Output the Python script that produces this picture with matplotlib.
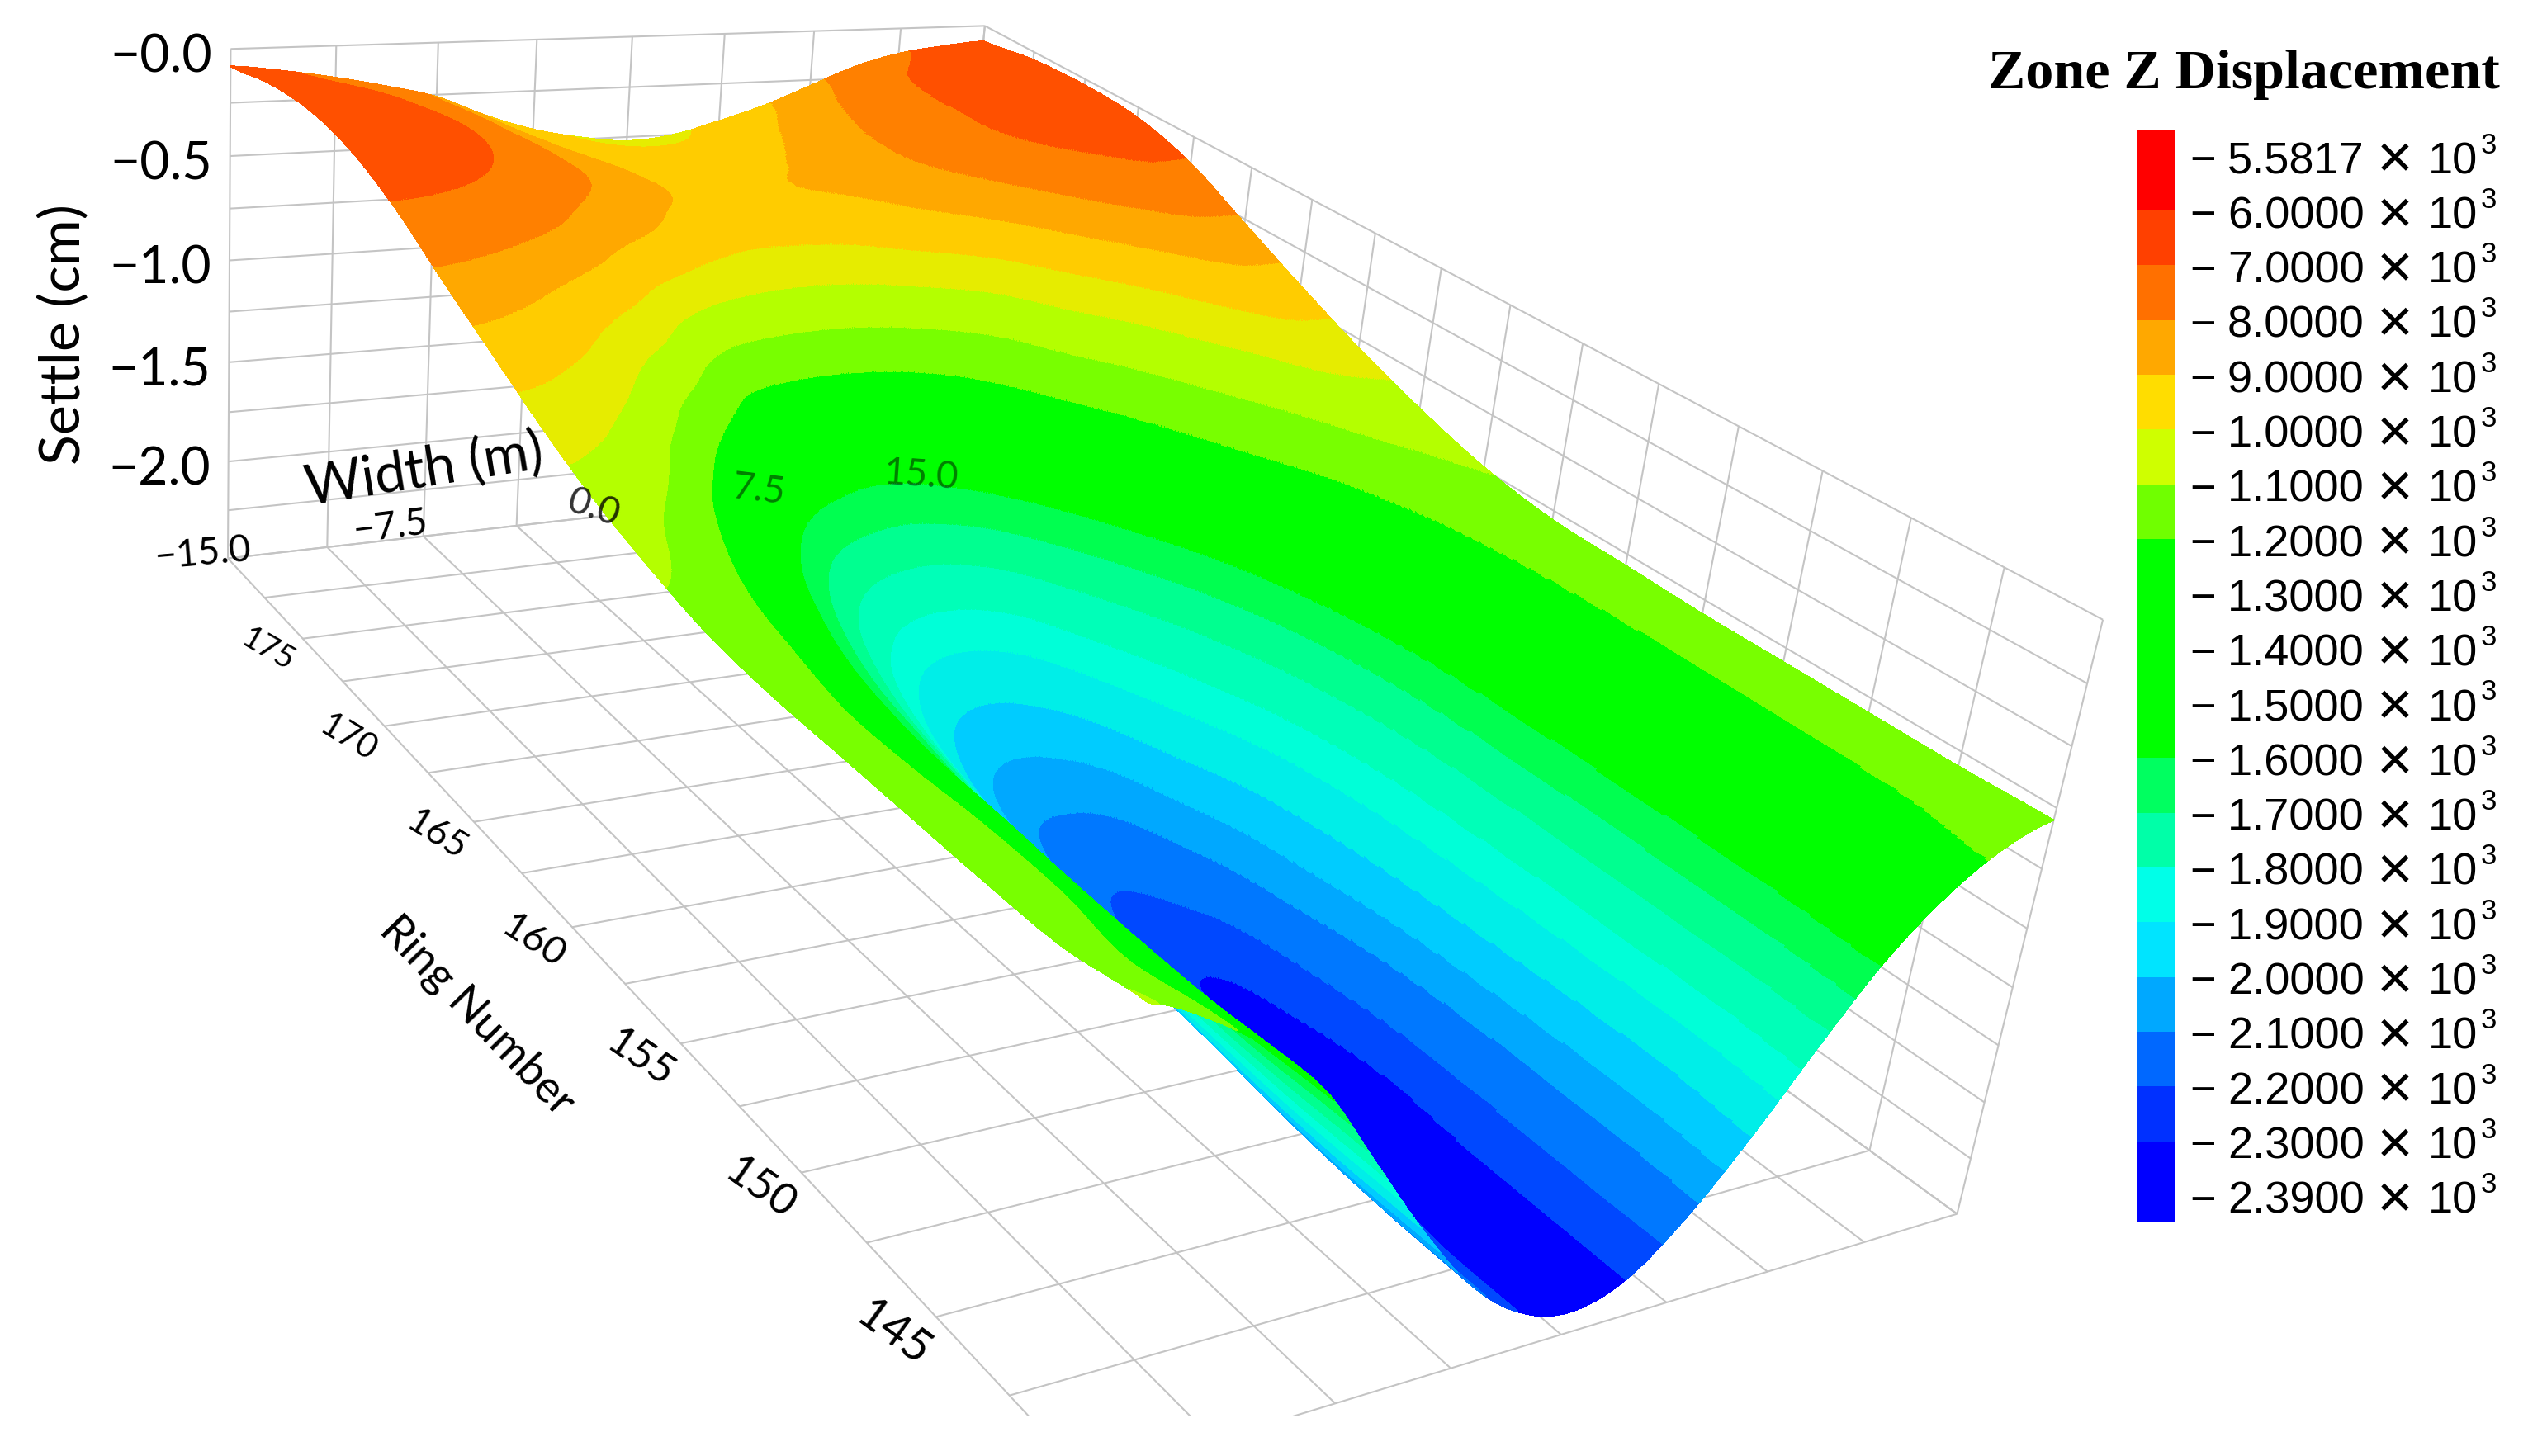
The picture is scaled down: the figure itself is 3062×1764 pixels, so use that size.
import numpy as np
import matplotlib
matplotlib.use("Agg")
import matplotlib.pyplot as plt
from matplotlib.collections import LineCollection
from matplotlib.patches import Rectangle

WIDTH_PX, HEIGHT_PX = 3062, 1765

# --- Data ---
WIDTHS = np.linspace(-15, 15, 17)
RINGS = np.linspace(180, 140, 17)
# settlement (cm), one row per ring from 180 down to 140, one column per width
SETTLE = np.array([
    [-.08, -.11, -.15, -.20, -.26, -.36, -.44, -.49, -.52, -.50, -.44, -.37, -.28, -.19, -.13, -.10, -.08],
    [-.02, -.05, -.09, -.15, -.22, -.32, -.39, -.42, -.43, -.42, -.38, -.31, -.22, -.13, -.08, -.05, -.04],
    [0.00, -.02, -.06, -.12, -.20, -.28, -.35, -.38, -.38, -.37, -.34, -.27, -.19, -.12, -.05, -.03, -.03],
    [-.04, -.05, -.09, -.15, -.22, -.29, -.36, -.40, -.39, -.38, -.35, -.29, -.22, -.14, -.07, -.04, -.05],
    [-.14, -.16, -.20, -.26, -.35, -.43, -.52, -.58, -.60, -.58, -.51, -.44, -.36, -.27, -.19, -.13, -.13],
    [-.28, -.31, -.37, -.46, -.58, -.78, -.97, -1.06, -1.09, -1.05, -.94, -.78, -.58, -.45, -.35, -.28, -.27],
    [-.41, -.45, -.53, -.68, -.88, -1.08, -1.24, -1.33, -1.37, -1.32, -1.20, -1.04, -.86, -.68, -.52, -.42, -.41],
    [-.54, -.59, -.71, -.90, -1.10, -1.30, -1.49, -1.63, -1.68, -1.62, -1.44, -1.26, -1.08, -.89, -.72, -.57, -.54],
    [-.65, -.73, -.86, -1.05, -1.24, -1.46, -1.70, -1.87, -1.92, -1.84, -1.64, -1.45, -1.26, -1.06, -.90, -.73, -.65],
    [-.73, -.81, -.95, -1.14, -1.34, -1.58, -1.85, -2.04, -2.09, -2.03, -1.81, -1.60, -1.39, -1.18, -1.01, -.85, -.74],
    [-.79, -.86, -.99, -1.19, -1.40, -1.66, -1.93, -2.14, -2.24, -2.15, -1.96, -1.73, -1.48, -1.25, -1.06, -.90, -.79],
    [-.81, -.89, -1.01, -1.21, -1.46, -1.73, -2.00, -2.21, -2.33, -2.28, -2.04, -1.80, -1.54, -1.28, -1.08, -.92, -.80],
    [-.81, -.89, -1.02, -1.22, -1.49, -1.78, -2.05, -2.25, -2.36, -2.33, -2.12, -1.84, -1.56, -1.29, -1.08, -.93, -.81],
    [-.81, -.88, -1.02, -1.24, -1.52, -1.82, -2.08, -2.28, -2.37, -2.36, -2.16, -1.87, -1.57, -1.29, -1.08, -.93, -.81],
    [-.81, -.88, -1.03, -1.25, -1.54, -1.85, -2.12, -2.30, -2.38, -2.35, -2.16, -1.90, -1.57, -1.29, -1.08, -.93, -.81],
    [-.80, -.90, -1.03, -1.25, -1.55, -1.87, -2.14, -2.33, -2.40, -2.35, -2.16, -1.91, -1.58, -1.28, -1.07, -.92, -.81],
    [-.74, -.85, -1.01, -1.22, -1.54, -1.86, -2.14, -2.33, -2.41, -2.35, -2.15, -1.87, -1.55, -1.25, -1.03, -.88, -.80],
])
# band limits on the height of the surface, and the colour of each band
SURFACE_LEVELS = [-9, -2.34, -2.23, -2.09, -1.98, -1.86, -1.73, -1.62, -1.49, -1.37, -1.26, -.91, -.75, -.60, -.48, -.36, -.25, -.12, .5]
SURFACE_COLORS = ["#0000ff", "#0048ff", "#0078ff", "#00a8ff", "#00ccff", "#00eee8", "#00ffd8", "#00ffb8", "#00ff90",
                  "#00ff50", "#00ff00", "#78ff00", "#b4ff00", "#e6ec00", "#ffcc00", "#ffa800", "#ff8000", "#ff5000"]

GRID_WIDTHS = np.arange(-15, 15.1, 3.75)
GRID_RINGS = np.arange(180, 139, -2.5)
GRID_SETTLE = np.arange(-2.5, 0.01, .25)
SETTLE_TICKS = [0, -0.5, -1.0, -1.5, -2.0]
SETTLE_LABELS = ["−0.0", "−0.5", "−1.0", "−1.5", "−2.0"]
WIDTH_TICKS = [-15, -7.5, 0, 7.5, 15]
WIDTH_LABELS = ["−15.0", "−7.5", "0.0", "7.5", "15.0"]
RING_TICKS = [175, 170, 165, 160, 155, 150, 145]

BAR_LABELS = ["5.5817", "6.0000", "7.0000", "8.0000", "9.0000", "1.0000", "1.1000", "1.2000", "1.3000", "1.4000",
              "1.5000", "1.6000", "1.7000", "1.8000", "1.9000", "2.0000", "2.1000", "2.2000", "2.3000", "2.3900"]
BAR_COLORS = ["#ff0000", "#ff4000", "#ff7000", "#ffa800", "#ffdd00", "#cfff00", "#70ff00", "#00ff00", "#00ff00", "#00ff00",
              "#00ff00", "#00ff60", "#00ffa8", "#00ffe8", "#00e4ff", "#00a8ff", "#0068ff", "#0030ff", "#0000ff"]

# --- Perspective box: corners of the original view, width/ring/settle to picture pixels ---
VIEW_POINTS = [
    (-15, 180, 0, 280, 60), (-15, 180, -2.5, 274, 678), (15, 180, 0, 1192, 33),
    (15, 140, 0, 2547, 750), (15, 140, -2.5, 2370, 1472), (-15, 145, -2.5, 1135, 1597),
    (-15, 160, -2.5, 693, 1124), (0, 140, -2.5, 1890, 1618), (-7.5, 140, -2.5, 1615, 1702),
    (7.5, 140, -2.5, 2140, 1541), (15, 142.5, -2.5, 2266, 1395), (15, 142.5, 0, 2429, 687),
    (15, 160, 0, 1747, 328), (15, 150, 0, 2105, 518), (0, 180, 0, 765, 45),
    (-7.5, 180, -2.5, 514, 651), (-3.75, 180, -2.5, 626, 636), (-15, 170, -2.5, 467, 881),
    (-15, 150, -2.5, 971, 1422),
]


def solve_camera():
    rows = []
    for w, r, z, x, y in VIEW_POINTS:
        X = [w, r - 160, z, 1.0]
        rows.append(X + [0, 0, 0, 0] + [-x * v for v in X])
        rows.append([0, 0, 0, 0] + X + [-y * v for v in X])
    _, _, vt = np.linalg.svd(np.array(rows, float))
    return vt[-1].reshape(3, 4)


P = solve_camera()


def project(w, r, z):
    w, r, z = np.broadcast_arrays(np.asarray(w, float), np.asarray(r, float), np.asarray(z, float))
    X = np.stack([w, r - 160, z, np.ones_like(w)], -1)
    h = X @ P.T
    return h[..., 0] / h[..., 2], h[..., 1] / h[..., 2]


def seg(a, b):
    x, y = project(*zip(a, b))
    return list(zip(x, y))


def smooth(a, n, axis):
    # Catmull-Rom resampling so the surface is not faceted
    a = np.moveaxis(a, axis, 0)
    m = a.shape[0]
    t = np.linspace(0, m - 1, n)
    i = np.clip(t.astype(int), 0, m - 2)
    s = (t - i).reshape((-1,) + (1,) * (a.ndim - 1))
    p1, p2 = a[i], a[i + 1]
    p0 = a[np.maximum(i - 1, 0)]
    p3 = a[np.minimum(i + 2, m - 1)]
    out = 0.5 * (2 * p1 + (p2 - p0) * s + (2 * p0 - 5 * p1 + 4 * p2 - p3) * s**2 + (3 * p1 - p0 - 3 * p2 + p3) * s**3)
    return np.moveaxis(out, 0, axis)


fig = plt.figure(figsize=(WIDTH_PX / 100, HEIGHT_PX / 100), dpi=100)
ax = fig.add_axes([0, 0, 1, 1])
ax.set_xlim(0, WIDTH_PX)
ax.set_ylim(HEIGHT_PX, 0)
ax.axis("off")

# --- Box grid ---
segs = []
for w in GRID_WIDTHS:
    segs.append(seg((w, 180, -2.5), (w, 180, 0)))
    segs.append(seg((w, 180, -2.5), (w, 140, -2.5)))
for z in GRID_SETTLE:
    segs.append(seg((-15, 180, z), (15, 180, z)))
    segs.append(seg((15, 180, z), (15, 140, z)))
for r in GRID_RINGS:
    segs.append(seg((-15, r, -2.5), (15, r, -2.5)))
    segs.append(seg((15, r, -2.5), (15, r, 0)))
lc = LineCollection(segs, colors="#c4c4c4", linewidths=1.5, zorder=1)
ax.add_collection(lc)
lc.set_clip_path(Rectangle((0, 0), WIDTH_PX, 1717, transform=ax.transData))

# --- Surface, strips painted from the far width to the near one ---
nw, nr = 480, 360
fine = smooth(smooth(SETTLE, nr, 0), nw, 1)
Wf, Rf = np.meshgrid(np.linspace(WIDTHS[0], WIDTHS[-1], nw), np.linspace(RINGS[0], RINGS[-1], nr))
X, Y = project(Wf, Rf, fine)
for j in range(nw - 2, -1, -1):
    cs = ax.contourf(X[:, j:j + 2], Y[:, j:j + 2], fine[:, j:j + 2], levels=SURFACE_LEVELS, colors=SURFACE_COLORS, zorder=3)
    cs.set_edgecolor("face")
    cs.set_linewidth(0.6)

# --- Axis text ---
FONT = "Lato"
for z, s in zip(SETTLE_TICKS, SETTLE_LABELS):
    x, y = project(-15, 180, z)
    ax.text(x - 22, y + 9, s, ha="right", va="center", fontsize=45, family=FONT, zorder=5)
ax.text(78, 405, "Settle (cm)", rotation=90, ha="center", va="center", fontsize=49, family=FONT, zorder=5)
ax.text(514, 570, "Width (m)", rotation=9, ha="center", va="center", fontsize=48, family=FONT, zorder=5)
ax.text(578, 1231, "Ring Number", rotation=-46, rotation_mode="anchor", ha="center", va="center", fontsize=39, family=FONT, zorder=5)

width_style = [(-30, -7, 5, 1), (-40, -12, 7, 1), (-16, -10, -18, .8), (-25, -8, -7, .5), (-25, -3, -4, .5)]
for w, s, (dx, dy, rot, al) in zip(WIDTH_TICKS, WIDTH_LABELS, width_style):
    x, y = project(w, 180, -2.5)
    ax.text(x + dx, y + dy, s, rotation=rot, rotation_mode="anchor", ha="center", va="center", fontsize=33, family=FONT, alpha=al, zorder=5)
for i, r in enumerate(RING_TICKS):
    x, y = project(-15, r, -2.5)
    ax.text(x - 42 - (175 - r) * .33, y + 13 + (175 - r) * .23, str(r), rotation=-30 - i, rotation_mode="anchor",
            ha="center", va="center", fontsize=28 + 2 * i, family=FONT, zorder=5)

# --- Colour bar ---
cax = fig.add_axes([2589 / WIDTH_PX, 1 - 1481 / HEIGHT_PX, 45 / WIDTH_PX, (1481 - 158) / HEIGHT_PX])
edges = [-0.48] + list(range(1, 19)) + [19.47]
for i, c in enumerate(BAR_COLORS):
    cax.bar(0.5, edges[i + 1] - edges[i], width=1, bottom=edges[i], color=c, linewidth=0)
cax.set_xlim(0, 1)
cax.set_ylim(19.47, -0.48)
cax.axis("off")
for i, s in enumerate(BAR_LABELS):
    y = 196 + 66.3 * i
    ax.text(2652, y, "−", ha="left", va="center", fontsize=39, family="Liberation Sans")
    ax.text(2698, y, s, ha="left", va="center", fontsize=39, family="Liberation Sans")
    ax.text(2901, y, "×", ha="center", va="center", fontsize=54, family="Liberation Sans")
    ax.text(2941, y, "10", ha="left", va="center", fontsize=39, family="Liberation Sans")
    ax.text(3005, y - 20, "3", ha="left", va="center", fontsize=25, family="Liberation Sans")

ax.text(2718, 107, "Zone Z Displacement", ha="center", va="baseline", fontsize=49, fontweight="bold", family="Liberation Serif")

fig.savefig("out.png", dpi=100)
